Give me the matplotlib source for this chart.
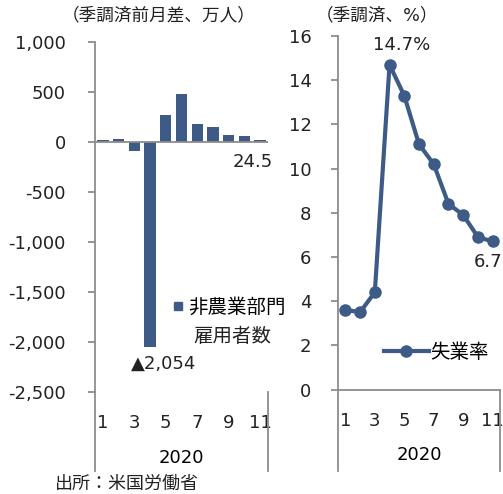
import matplotlib.pyplot as plt
from matplotlib.lines import Line2D
import numpy as np

plt.rcParams['font.family'] = ['DejaVu Sans', 'Noto Sans CJK JP']

# data
months = [1, 2, 3, 4, 5, 6, 7, 8, 9, 10, 11]
month_labels = ['1', '3', '5', '7', '9', '11']
payrolls = [21.4, 27.5, -88.1, -2054.0, 272.5, 478.1, 176.1, 148.9, 71.1, 61.0, 24.5]  # 万人
unemp = [3.6, 3.5, 4.4, 14.7, 13.3, 11.1, 10.2, 8.4, 7.9, 6.9, 6.7]  # %

navy = '#3d5b86'
grey = '#8c8c8c'
W, H = 503, 494

fig = plt.figure(figsize=(W / 100, H / 100), dpi=100)

# ---- left: nonfarm payrolls
ax1 = fig.add_axes([95 / W, (H - 392) / H, 173 / W, 350 / H])
ax1.bar(months, payrolls, width=0.72, color=navy, label='非農業部門')
ax1.axhline(0, color=grey, lw=1.3)
ax1.set_xlim(0.5, 11.5)
ax1.set_ylim(-2500, 1000)
yt = np.arange(-2500, 1001, 500)
ax1.set_yticks(yt)
ax1.set_yticklabels([f'{v:,}' for v in yt])
ax1.set_xticks(months[::2])
ax1.set_xticklabels(month_labels)
ax1.set_xlabel('2020', fontsize=13, labelpad=12)

ax1.annotate('24.5', (months[-1], payrolls[-1]), xytext=(-5, -16), textcoords='offset points',
             ha='center', va='center', fontsize=13, color='#222222')
ax1.annotate('▲2,054', (months[3], payrolls[3]), xytext=(10, -12), textcoords='offset points',
             ha='center', va='center', fontsize=13, color='#222222')

ax1.legend(handles=[Line2D([], [], ls='none', marker='s', ms=6, color=navy)],
           labels=['非農業部門'], loc='center left', bbox_to_anchor=(173 / W, 1 - 307 / H),
           bbox_transform=fig.transFigure, frameon=False, fontsize=14,
           handlelength=0.5, handletextpad=0.3, borderpad=0, borderaxespad=0)
fig.text(193 / W, 1 - 336 / H, '雇用者数', fontsize=14, va='center', ha='left', color='#222222')

# ---- right: unemployment rate
ax2 = fig.add_axes([338 / W, (H - 389.5) / H, 162 / W, 353.5 / H])
ax2.plot(months, unemp, color=navy, lw=3, marker='o', ms=8, label='失業率')
ax2.set_xlim(0.5, 11.5)
ax2.set_ylim(0, 16)
ax2.set_yticks(np.arange(0, 17, 2))
ax2.set_xticks(months[::2])
ax2.set_xticklabels(month_labels)
ax2.set_xlabel('2020', fontsize=13, labelpad=12)

ax2.annotate('14.7%', (months[3], unemp[3]), xytext=(9, 14), textcoords='offset points',
             ha='center', va='center', fontsize=13, color='#222222')
ax2.annotate('6.7', (months[-1], unemp[-1]), xytext=(7, -15), textcoords='offset points',
             ha='right', va='center', fontsize=13, color='#222222', annotation_clip=False)

ax2.legend(loc='center left', bbox_to_anchor=(384 / W, 1 - 352 / H), bbox_transform=fig.transFigure,
           frameon=False, fontsize=14, handlelength=2.3, handletextpad=0.1,
           borderpad=0, borderaxespad=0)

for ax in (ax1, ax2):
    for s in ('top', 'right'):
        ax.spines[s].set_visible(False)
    ax.spines['left'].set_color(grey)
    ax.spines['left'].set_linewidth(1.3)
    ax.tick_params(axis='y', length=5, width=1.3, color=grey, labelsize=13, pad=14, labelcolor='#222222')
    ax.tick_params(axis='x', length=0, labelsize=13, pad=16, labelcolor='#222222')
ax1.spines['bottom'].set_visible(False)
ax2.spines['bottom'].set_color(grey)
ax2.spines['bottom'].set_linewidth(1.3)
ax1.tick_params(axis='y', pad=16)

# category axis frame lines below the plots
for x0, x1, ytop in [(95, 268, 392), (338, 500, 389.5)]:
    fig.add_artist(Line2D([x0 / W, x0 / W], [1 - ytop / H, 1 - 471 / H], color=grey, lw=1.3))
    fig.add_artist(Line2D([x1 / W, x1 / W], [1 - ytop / H, 1 - 471 / H], color=grey, lw=1.3))

fig.text(159 / W, 1 - 15 / H, '（季調済前月差、万人）', ha='center', va='center', fontsize=12.7, color='#222222')
fig.text(377 / W, 1 - 15 / H, '（季調済、%）', ha='center', va='center', fontsize=12.7, color='#222222')
fig.text(55 / W, 1 - 484 / H, '出所：米国労働省', ha='left', va='center', fontsize=13, color='#222222')

fig.savefig('out.png', dpi=100)
